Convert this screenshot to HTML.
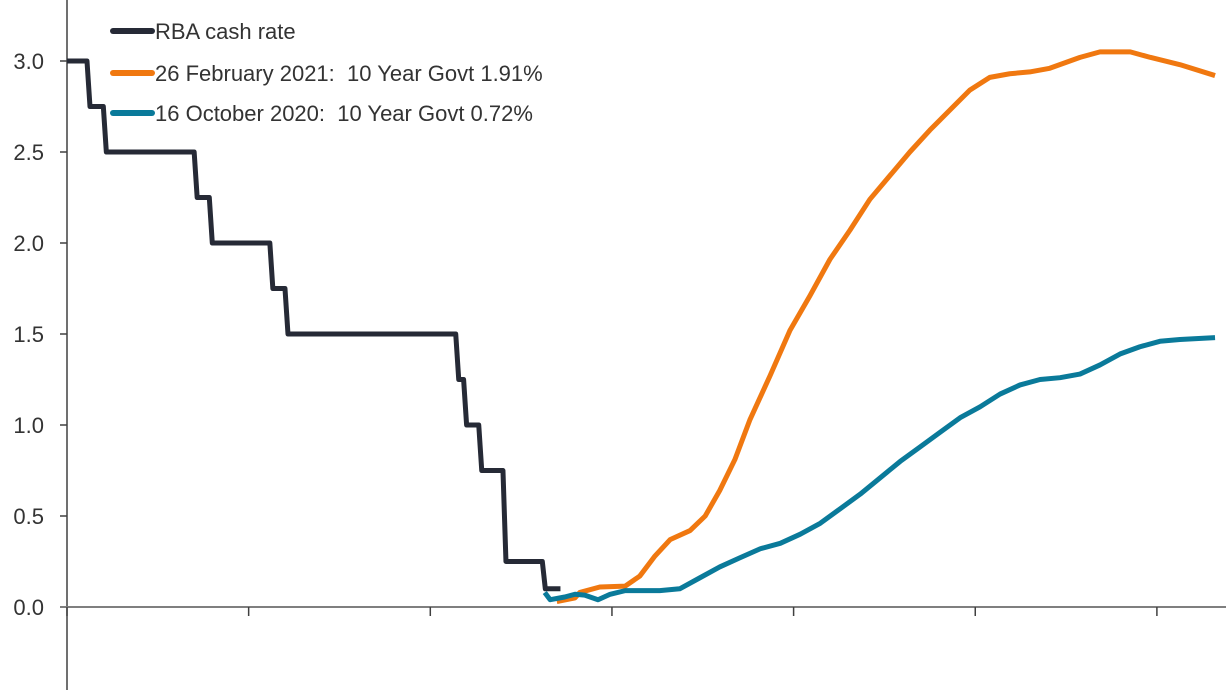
<!DOCTYPE html>
<html><head><meta charset="utf-8"><style>
body{margin:0;background:#fff;}
svg{display:block;font-family:"Liberation Sans",Arial,sans-serif;}
</style></head><body>
<svg id="chart" width="1226" height="690"></svg>
<script>
const yTicks=[-0.5,0.0,0.5,1.0,1.5,2.0,2.5,3.0];
const xTickYears=[2013,2016,2019,2022,2025,2028,2031];
const cashYears=[2013,2013.33,2013.6,2015.1,2015.35,2016.35,2016.6,2019.42,2019.55,2019.8,2020.2,2020.85,2021.1];
const cashRates=[3.0,2.75,2.5,2.25,2.0,1.75,1.5,1.25,1.0,0.75,0.25,0.1,0.1];
const febYears=[2021.09,2021.39,2021.47,2021.8,2022.22,2022.46,2022.71,2022.96,2023.29,2023.54,2023.78,2024.03,2024.28,2024.61,2024.94,2025.27,2025.6,2025.93,2026.26,2026.59,2026.92,2027.25,2027.58,2027.91,2028.24,2028.57,2028.9,2029.23,2029.73,2030.06,2030.56,2030.89,2031.38,2031.96];
const febValues=[0.03,0.05,0.08,0.11,0.115,0.17,0.28,0.37,0.42,0.5,0.64,0.81,1.03,1.27,1.52,1.71,1.91,2.07,2.24,2.37,2.5,2.62,2.73,2.84,2.91,2.93,2.94,2.96,3.02,3.05,3.05,3.02,2.98,2.92];
const octYears=[2020.89,2020.98,2021.22,2021.39,2021.55,2021.77,2021.97,2022.22,2022.46,2022.79,2023.12,2023.45,2023.78,2024.11,2024.45,2024.78,2025.11,2025.44,2025.77,2026.1,2026.43,2026.76,2027.09,2027.42,2027.75,2028.08,2028.41,2028.74,2029.07,2029.4,2029.73,2030.06,2030.39,2030.72,2031.05,2031.38,2031.96];
const octValues=[0.08,0.04,0.055,0.07,0.065,0.04,0.07,0.09,0.09,0.09,0.1,0.16,0.22,0.27,0.32,0.35,0.4,0.46,0.54,0.62,0.71,0.8,0.88,0.96,1.04,1.1,1.17,1.22,1.25,1.26,1.28,1.33,1.39,1.43,1.46,1.47,1.48];

const NS='http://www.w3.org/2000/svg';
const svg=document.getElementById('chart');
const x=t=>67+(t-2013)*60.55;
const y=v=>607-v*182;
function mk(tag,attrs){const e=document.createElementNS(NS,tag);for(const k in attrs)e.setAttribute(k,attrs[k]);svg.appendChild(e);return e;}

// y axis
let ya=mk('line',{x1:67,y1:0,x2:67,y2:690,stroke:'#404040','stroke-width':1.5});


yTicks.forEach(v=>{
  const t=mk('line',{x1:60,x2:67,y1:y(v),y2:y(v),stroke:'#404040','stroke-width':1.5});
  
  
  const l=mk('text',{x:44,y:y(v)+8,'text-anchor':'end','font-size':22,fill:'#333'});
  l.textContent=v.toFixed(1);
  
  
});
// x axis
let xa=mk('line',{x1:60,y1:y(0),x2:1226,y2:y(0),stroke:'#7f7f7f','stroke-width':2});


xTickYears.forEach(t=>{
  const k=mk('line',{x1:x(t),x2:x(t),y1:y(0),y2:y(0)+9,stroke:'#404040','stroke-width':1.5});
  
  
});
// series
function stepPath(xs,vs){let d='M'+x(xs[0])+','+y(vs[0]);for(let i=1;i<xs.length;i++){d+=' L'+x(xs[i])+','+y(vs[i-1])+' L'+(x(xs[i])+3)+','+y(vs[i]);}return d;}
function linePath(xs,vs){return xs.map((t,i)=>(i?'L':'M')+x(t)+','+y(vs[i])).join(' ');}
let c=mk('path',{d:stepPath(cashYears,cashRates),fill:'none',stroke:'#262a36','stroke-width':5,'stroke-linejoin':'round'});


let f=mk('path',{d:linePath(febYears,febValues),fill:'none',stroke:'#f07810','stroke-width':5,'stroke-linejoin':'round'});


let o=mk('path',{d:linePath(octYears,octValues),fill:'none',stroke:'#0a7a9a','stroke-width':5,'stroke-linejoin':'round'});


// legend
const legColors=['#262a36','#f07810','#0a7a9a'];
const legLabels=['RBA cash rate','26 February 2021:  10 Year Govt 1.91%','16 October 2020:  10 Year Govt 0.72%'];
const legY=[31,73,113];
legLabels.forEach((s,i)=>{
  const l=mk('line',{x1:113,x2:152,y1:legY[i],y2:legY[i],stroke:legColors[i],'stroke-width':6,'stroke-linecap':'round'});
  
  
  const t=mk('text',{x:155,y:legY[i]+8,'font-size':22,fill:'#333','xml:space':'preserve'});
  t.style.whiteSpace='pre';
  t.textContent=s;
  
  
});
</script>
</body></html>
